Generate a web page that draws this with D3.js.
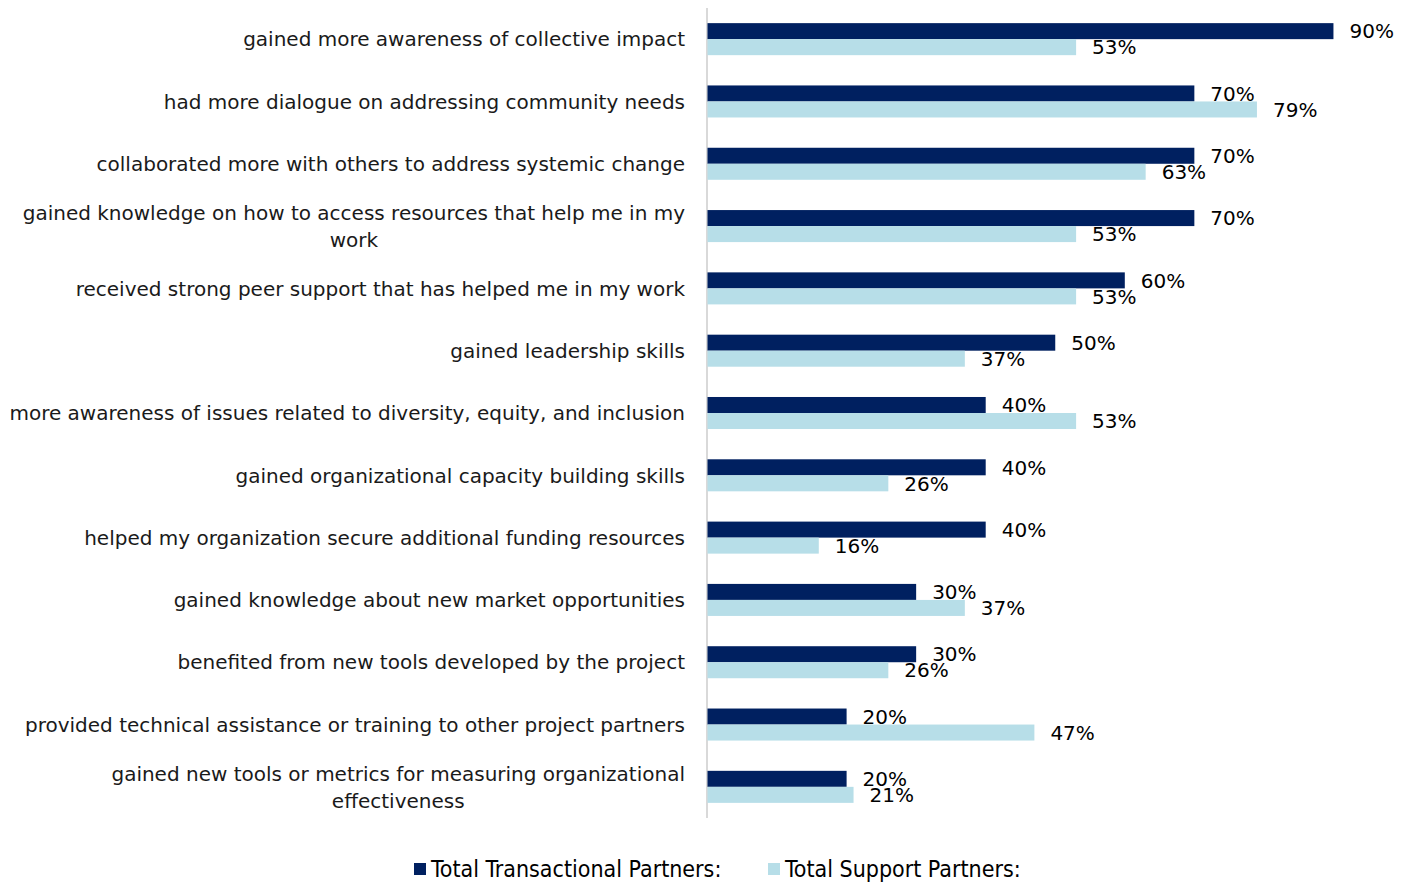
<!DOCTYPE html>
<html>
<head>
<meta charset="utf-8">
<script src="https://cdn.jsdelivr.net/npm/d3@7"></script>
<style>
  html, body { margin: 0; padding: 0; background: #ffffff; }
  svg { display: block; }
</style>
</head>
<body>
<svg id="chart" width="1411" height="882"></svg>
<script>
// Survey outcomes, share of respondents by partner type
const categories = [
  "gained more awareness of collective impact",
  "had more dialogue on addressing community needs",
  "collaborated more with others to address systemic change",
  "gained knowledge on how to access resources that help me in my work",
  "received strong peer support that has helped me in my work",
  "gained leadership skills",
  "more awareness of issues related to diversity, equity, and inclusion",
  "gained organizational capacity building skills",
  "helped my organization secure additional funding resources",
  "gained knowledge about new market opportunities",
  "benefited from new tools developed by the project",
  "provided technical assistance or training to other project partners",
  "gained new tools or metrics for measuring organizational effectiveness"
];
const transactional = [90, 70, 70, 70, 60, 50, 40, 40, 40, 30, 30, 20, 20];
const support = [53, 79, 63, 53, 53, 37, 53, 26, 16, 37, 26, 47, 21];
const seriesNames = ["Total Transactional Partners:", "Total Support Partners:"];
const seriesColors = ["#002060", "#b7dee8"];

const svg = d3.select("#chart");
const labelFont = "'DejaVu Sans', sans-serif";
const legendFont = "'Liberation Sans Narrow', 'DejaVu Sans Condensed', sans-serif";

const x = d3.scaleLinear().domain([0, 100]).range([707.5, 1403]);
const y = d3.scaleBand().domain(d3.range(categories.length))
  .range([8, 818]).paddingInner(0.486).paddingOuter(0.243);
const sub = d3.scaleBand().domain([0, 1]).range([0, y.bandwidth()]);

// vertical category axis line
svg.append("line")
  .attr("x1", x(0) - 0.5).attr("x2", x(0) - 0.5)
  .attr("y1", 8).attr("y2", 818)
  .attr("stroke", "#d9d9d9").attr("stroke-width", 2);

const rows = categories.map((c, i) => ({ i, c, vals: [transactional[i], support[i]] }));

const g = svg.selectAll("g.row").data(rows).join("g")
  .attr("class", "row")
  .attr("transform", d => `translate(0,${y(d.i)})`);

g.selectAll("rect").data(d => d.vals.map((v, k) => ({ v, k }))).join("rect")
  .attr("x", x(0))
  .attr("y", d => sub(d.k))
  .attr("width", d => x(d.v) - x(0))
  .attr("height", sub.bandwidth())
  .attr("fill", d => seriesColors[d.k]);

g.selectAll("text.val").data(d => d.vals.map((v, k) => ({ v, k }))).join("text")
  .attr("class", "val")
  .attr("x", d => x(d.v) + 16)
  .attr("y", d => sub(d.k) + sub.bandwidth() / 2)
  .attr("dy", "0.36em")
  .attr("font-family", labelFont)
  .attr("font-size", 20)
  .attr("fill", "#000")
  .text(d => d.v + "%");

// category labels, wrapped and centred within a right-aligned block
const labelRight = 685;
const maxWidth = 680;
const lineH = 27;
const labels = svg.append("g");
rows.forEach(d => {
  const t = labels.append("text")
    .attr("font-family", labelFont)
    .attr("font-size", 20)
    .attr("fill", "#1a1a1a");
  const words = d.c.split(" ");
  const lines = [];
  let cur = [];
  const probe = t.append("tspan");
  words.forEach(w => {
    const test = cur.concat(w).join(" ");
    probe.text(test);
    if (probe.node().getComputedTextLength() > maxWidth && cur.length) {
      lines.push(cur.join(" "));
      cur = [w];
    } else cur.push(w);
  });
  lines.push(cur.join(" "));
  probe.remove();
  const widths = lines.map(s => { const p = t.append("tspan").text(s); const w = p.node().getComputedTextLength(); p.remove(); return w; });
  const blockW = d3.max(widths);
  const cx = labelRight - blockW / 2;
  const cy = y(d.i) + y.bandwidth() / 2;
  lines.forEach((s, k) => {
    t.append("tspan")
      .attr("x", cx)
      .attr("text-anchor", "middle")
      .attr("y", cy + (k - (lines.length - 1) / 2) * lineH)
      .attr("dy", "0.36em")
      .text(s);
  });
});

// legend
const legend = svg.append("g");
const legendX = [414, 768];
seriesNames.forEach((name, k) => {
  legend.append("rect")
    .attr("x", legendX[k]).attr("y", 863)
    .attr("width", 12).attr("height", 12)
    .attr("fill", seriesColors[k]);
  legend.append("text")
    .attr("x", legendX[k] + 17).attr("y", 869)
    .attr("dy", "0.36em")
    .attr("font-family", legendFont)
    .attr("font-size", 23)
    .attr("fill", "#000")
    .text(name);
});
</script>
</body>
</html>
